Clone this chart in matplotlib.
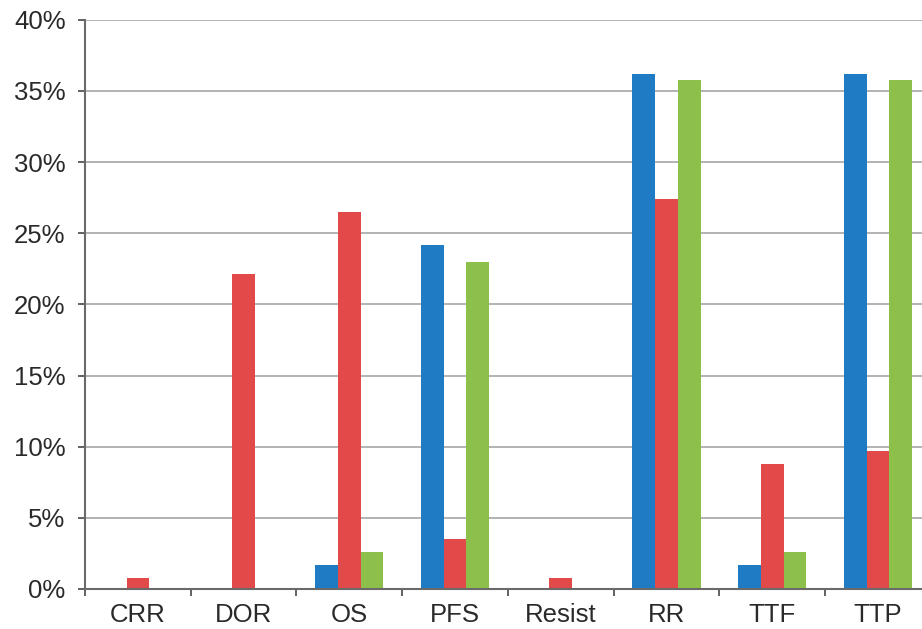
import matplotlib.pyplot as plt
import numpy as np

categories = ['CRR', 'DOR', 'OS', 'PFS', 'Resist', 'RR', 'TTF', 'TTP']
blue_vals = [0.0, 0.0, 1.7, 24.2, 0.0, 36.2, 1.7, 36.2]
red_vals = [0.8, 22.1, 26.5, 3.5, 0.8, 27.4, 8.8, 9.7]
green_vals = [0.0, 0.0, 2.6, 23.0, 0.0, 35.8, 2.6, 35.8]
yticks = [0, 5, 10, 15, 20, 25, 30, 35, 40]

plt.rcParams['font.family'] = ['Liberation Sans', 'DejaVu Sans']

fig = plt.figure(figsize=(9.22, 6.29), dpi=100)
# axes run past the right edge of the figure, so the last group is clipped
ax = fig.add_axes([0.0922, 0.0636, 0.9175, 0.905])

x = np.arange(len(categories))
w = 0.215
ax.bar(x - w, blue_vals, w, color='#1f7cc4', zorder=3)
ax.bar(x, red_vals, w, color='#e24a4a', zorder=3)
ax.bar(x + w, green_vals, w, color='#8dc04b', zorder=3)

ax.set_xlim(-0.5, len(categories) - 0.5)
ax.set_ylim(0, 40)
ax.set_yticks(yticks)
ax.set_yticklabels([f'{v}%' for v in yticks])
ax.yaxis.grid(True, color='#acacac', linewidth=1.3, zorder=0)

ax.set_xticks(x)
ax.set_xticklabels(categories)
ax.set_xticks(np.arange(len(categories)) - 0.5, minor=True)
ax.tick_params(axis='x', which='major', length=0, pad=10, labelsize=18.5, colors='#2a2a2a')
ax.tick_params(axis='x', which='minor', length=5, width=1.3, color='#555555')
ax.tick_params(axis='y', length=5, width=1.3, color='#555555', labelsize=18.5,
               labelcolor='#2a2a2a', pad=9)

for s in ['top', 'right']:
    ax.spines[s].set_visible(False)
for s in ['left', 'bottom']:
    ax.spines[s].set_color('#6a6a6a')
    ax.spines[s].set_linewidth(1.5)
ax.spines['bottom'].set_zorder(4)

fig.savefig('out.png', dpi=100)
